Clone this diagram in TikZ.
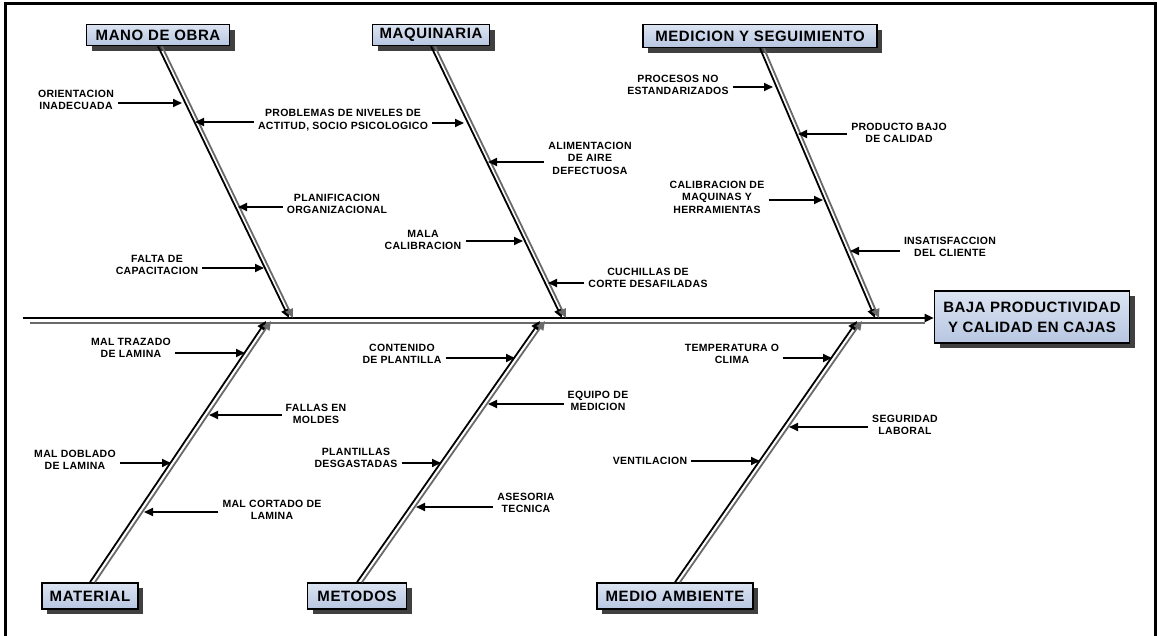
\documentclass[tikz,border=0pt]{standalone}
\usepackage{fontspec}
\setmainfont{Liberation Sans}
\usetikzlibrary{arrows.meta, shadows, positioning}

\definecolor{boxtop}{HTML}{DCE4F2}
\definecolor{boxbot}{HTML}{B7C6E1}
\definecolor{bonegray}{HTML}{6A6A6A}

\tikzset{
  catbox/.style={draw=black, line width=1.6pt, top color=boxtop, bottom color=boxbot,
    inner sep=1pt, font=\bfseries\fontsize{15}{16}\selectfont\addfontfeatures{LetterSpace=4},
    drop shadow={shadow xshift=5pt, shadow yshift=-5pt, fill=black!75, opacity=1}},
  effbox/.style={catbox, align=center, font=\bfseries\fontsize{15}{20}\selectfont\addfontfeatures{LetterSpace=3}},
  cause/.style={align=center, inner sep=4pt, font=\bfseries\fontsize{10.5}{12.5}\selectfont\addfontfeatures{LetterSpace=3}},
  arr/.style={-{Triangle[length=9pt,width=8pt]}, line width=1.8pt},
  bone/.style={line width=1.8pt}
}

\begin{document}
\begin{tikzpicture}[x=1pt, y=-1pt]
    \useasboundingbox (0,0) rectangle (1157,635);
    % outer frame
    \draw[line width=3pt] (5,3) rectangle (1155,645);

    % --- Effect and spine ---
    \node[effbox, minimum width=195pt, minimum height=52pt] (eff) at (1032,317) {BAJA PRODUCTIVIDAD\\Y CALIDAD EN CAJAS};
    \coordinate (sp0) at (23,318);
    \coordinate (sp1) at (30,323);
    \coordinate (sp2) at (925,323);
    \draw[arr] (sp0) -- (sp0 -| eff.west);
    \draw[bone, bonegray] (sp1) -- (sp2);

    % --- Category boxes ---
    \node[catbox, minimum width=143pt, minimum height=21pt] (mo) at (158,35) {MANO DE OBRA};
    \node[catbox, minimum width=117pt, minimum height=21pt] (mq) at (431,35) {MAQUINARIA};
    \node[catbox, minimum width=234pt, minimum height=23pt] (me) at (760,36) {MEDICION Y SEGUIMIENTO};
    \node[catbox, minimum width=96pt, minimum height=26pt] (ma) at (90,596) {MATERIAL};
    \node[catbox, minimum width=99pt, minimum height=26pt] (mt) at (357,596) {METODOS};
    \node[catbox, minimum width=156pt, minimum height=26pt] (am) at (675,596) {MEDIO AMBIENTE};

    % --- Bones (black line with grey twin) ---
    \coordinate (mo-t) at (289,318);
    \coordinate (mq-t) at (562,318);
    \coordinate (me-t) at (875,318);
    \coordinate (ma-t) at (266,321);
    \coordinate (mt-t) at (540,321);
    \coordinate (am-t) at (857,321);
    \foreach \b in {mo, mq, me} {
      \draw[arr] (\b.south) -- (\b-t);
      \draw[arr, bonegray] ([xshift=4pt]\b.south) -- ([xshift=4pt]\b-t);
    }
    \foreach \b in {ma, mt, am} {
      \draw[arr] (\b.north) -- (\b-t);
      \draw[arr, bonegray] ([xshift=5pt]\b.north) -- ([xshift=5pt]\b-t);
    }

    % --- Causes ---
    \foreach \n/\x/\y/\txt in {
      c11/76/100/{ORIENTACION\\INADECUADA},
      c12/343/120/{PROBLEMAS DE NIVELES DE\\ACTITUD, SOCIO PSICOLOGICO},
      c13/337/204/{PLANIFICACION\\ORGANIZACIONAL},
      c14/157/265/{FALTA DE\\CAPACITACION},
      c22/590/158/{ALIMENTACION\\DE AIRE\\DEFECTUOSA},
      c23/423/240/{MALA\\CALIBRACION},
      c24/648/278/{CUCHILLAS DE\\CORTE DESAFILADAS},
      c31/678/85/{PROCESOS NO\\ESTANDARIZADOS},
      c32/899/133/{PRODUCTO BAJO\\DE CALIDAD},
      c33/717/197/{CALIBRACION DE\\MAQUINAS Y\\HERRAMIENTAS},
      c34/950/247/{INSATISFACCION\\DEL CLIENTE},
      c41/131/348/{MAL TRAZADO\\DE LAMINA},
      c42/316/414/{FALLAS EN\\MOLDES},
      c43/75/460/{MAL DOBLADO\\DE LAMINA},
      c44/272/510/{MAL CORTADO DE\\LAMINA},
      c51/402/354/{CONTENIDO\\DE PLANTILLA},
      c52/598/401/{EQUIPO DE\\MEDICION},
      c53/356/458/{PLANTILLAS\\DESGASTADAS},
      c54/526/503/{ASESORIA\\TECNICA},
      c61/732/354/{TEMPERATURA O\\CLIMA},
      c62/905/425/{SEGURIDAD\\LABORAL},
      c63/650/461/{VENTILACION}} {
      \node[cause] (\n) at (\x,\y) {\txt};
    }

    % arrow targets on the bones
    \foreach \t/\x/\y in {t11/182/103, t12/195/122, t13/238/207, t14/264/268,
      t21/464/123, t22/488/162, t23/523/241, t24/548/283,
      t31/773/87, t32/798/134, t33/823/200, t34/850/251,
      t41/245/353, t42/209/415, t43/171/463, t44/144/512,
      t51/515/358, t52/488/404, t53/441/463, t54/416/507,
      t61/832/358, t62/789/427, t63/760/461} {
      \coordinate (\t) at (\x,\y);
    }

    % cause arrows: label side / target
    \foreach \c/\s/\t in {c11/east/t11, c12/west/t12, c13/west/t13, c14/east/t14,
      c12/east/t21, c22/west/t22, c23/east/t23, c24/west/t24,
      c31/east/t31, c32/west/t32, c33/east/t33, c34/west/t34,
      c41/east/t41, c42/west/t42, c43/east/t43, c44/west/t44,
      c51/east/t51, c52/west/t52, c53/east/t53, c54/west/t54,
      c61/east/t61, c62/west/t62, c63/east/t63} {
      \draw[arr] (\t -| \c.\s) -- (\t);
    }

\end{tikzpicture}
\end{document}
